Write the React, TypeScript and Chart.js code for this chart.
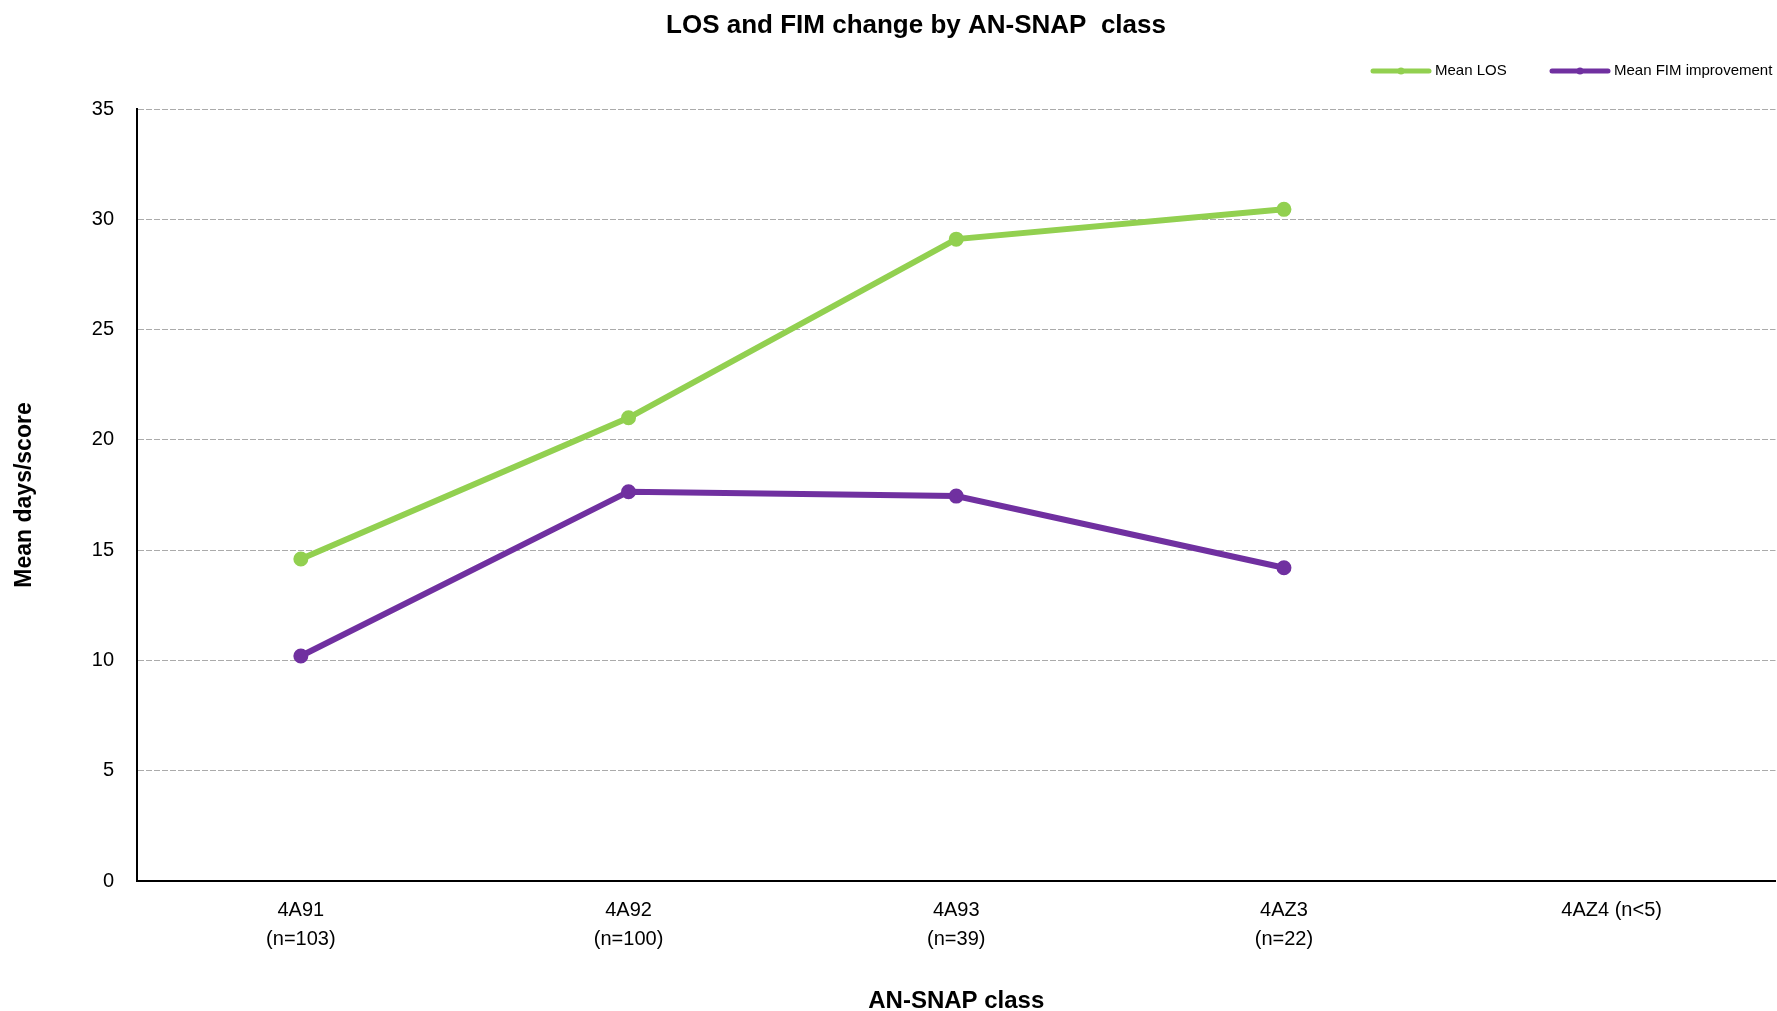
import React, { useEffect, useRef } from "react";
import { Chart, registerables } from "chart.js";

Chart.register(...registerables);

const categories: string[][] = [
  ["4A91", "(n=103)"],
  ["4A92", "(n=100)"],
  ["4A93", "(n=39)"],
  ["4AZ3", "(n=22)"],
  ["4AZ4 (n<5)"],
];
const meanLOS: (number | null)[] = [14.6, 21.0, 29.1, 30.45, null];
const meanFIM: (number | null)[] = [10.2, 17.65, 17.45, 14.2, null];
const seriesNames = ["Mean LOS", "Mean FIM improvement"];
const seriesColors = ["#92D050", "#7030A0"];
const yTicks = { min: 0, max: 35, step: 5 };

const FONT = "'Liberation Sans Narrow', 'Arial Narrow', 'Liberation Sans', Arial, sans-serif";

const titleShiftPlugin = {
  id: "titleShift",
  afterLayout(chart: any) {
    const t = chart.titleBlock;
    if (t) {
      t.left += 23;
      t.right += 23;
    }
  },
};

const legendPlugin = {
  id: "customLegend",
  afterDraw(chart: any) {
    const ctx = chart.ctx;
    const items = [
      { x: 1373, text: seriesNames[0], color: seriesColors[0] },
      { x: 1552, text: seriesNames[1], color: seriesColors[1] },
    ];
    const y = 71;
    ctx.save();
    items.forEach((it) => {
      ctx.strokeStyle = it.color;
      ctx.lineWidth = 5;
      ctx.lineCap = "round";
      ctx.beginPath();
      ctx.moveTo(it.x, y);
      ctx.lineTo(it.x + 56, y);
      ctx.stroke();
      ctx.fillStyle = it.color;
      ctx.beginPath();
      ctx.arc(it.x + 28, y, 3.5, 0, Math.PI * 2);
      ctx.fill();
      ctx.fillStyle = "#000";
      ctx.font = `15px ${FONT}`;
      ctx.textAlign = "left";
      ctx.textBaseline = "middle";
      ctx.fillText(it.text, it.x + 62, y);
    });
    ctx.restore();
  },
};

export default function App() {
  const ref = useRef<HTMLCanvasElement | null>(null);
  useEffect(() => {
    if (!ref.current) return;
    const chart = new Chart(ref.current, {
      type: "line",
      data: {
        labels: categories,
        datasets: [
          {
            label: seriesNames[0],
            data: meanLOS,
            borderColor: seriesColors[0],
            backgroundColor: seriesColors[0],
            borderWidth: 6,
            pointRadius: 4.5,
            pointHoverRadius: 4.5,
            tension: 0,
          },
          {
            label: seriesNames[1],
            data: meanFIM,
            borderColor: seriesColors[1],
            backgroundColor: seriesColors[1],
            borderWidth: 6,
            pointRadius: 4.5,
            pointHoverRadius: 4.5,
            tension: 0,
          },
        ],
      },
      options: {
        animation: false,
        responsive: true,
        maintainAspectRatio: false,
        layout: { padding: { top: 0, bottom: 0, left: 0, right: 0 } },
        plugins: {
          legend: { display: false },
          tooltip: { enabled: false },
          title: {
            display: true,
            text: "LOS and FIM change by AN-SNAP  class",
            color: "#000",
            font: { family: FONT, size: 26, weight: "bold", lineHeight: 1 },
            padding: { top: 13, bottom: 70 },
          },
        },
        scales: {
          x: {
            offset: true,
            grid: { display: false, drawTicks: false },
            border: { color: "#000", width: 2 },
            ticks: {
              color: "#000",
              padding: 15,
              maxRotation: 0,
              autoSkip: false,
              font: { family: FONT, size: 20, lineHeight: 1.45 },
            },
            title: {
              display: true,
              text: "AN-SNAP class",
              color: "#000",
              font: { family: FONT, size: 24, weight: "bold", lineHeight: 1 },
              padding: { top: 0, bottom: -2 },
            },
            afterFit(scale: any) {
              scale.height = 130;
              scale.paddingRight = 0;
              scale.paddingLeft = 0;
            },
          },
          y: {
            min: yTicks.min,
            max: yTicks.max,
            grid: {
              color: (c: any) => (c.tick && c.tick.value === 0 ? "rgba(0,0,0,0)" : "#ABABAB"),
              lineWidth: 1,
              drawTicks: false,
            },
            border: { color: "#000", width: 2, dash: [6, 2] },
            ticks: {
              stepSize: yTicks.step,
              color: "#000",
              padding: 23,
              font: { family: FONT, size: 20 },
            },
            title: {
              display: true,
              text: "Mean days/score",
              color: "#000",
              font: { family: FONT, size: 23, weight: "bold", lineHeight: 1 },
              padding: { top: 13, bottom: 0 },
            },
            afterFit(scale: any) {
              scale.width = 137;
            },
          },
        },
      },
      plugins: [titleShiftPlugin, legendPlugin],
    } as any);
    return () => chart.destroy();
  }, []);
  return (
    <div style={{ position: "fixed", left: 0, top: 0, width: 1786, height: 1011, background: "#fff" }}>
      <canvas ref={ref} />
    </div>
  );
}
